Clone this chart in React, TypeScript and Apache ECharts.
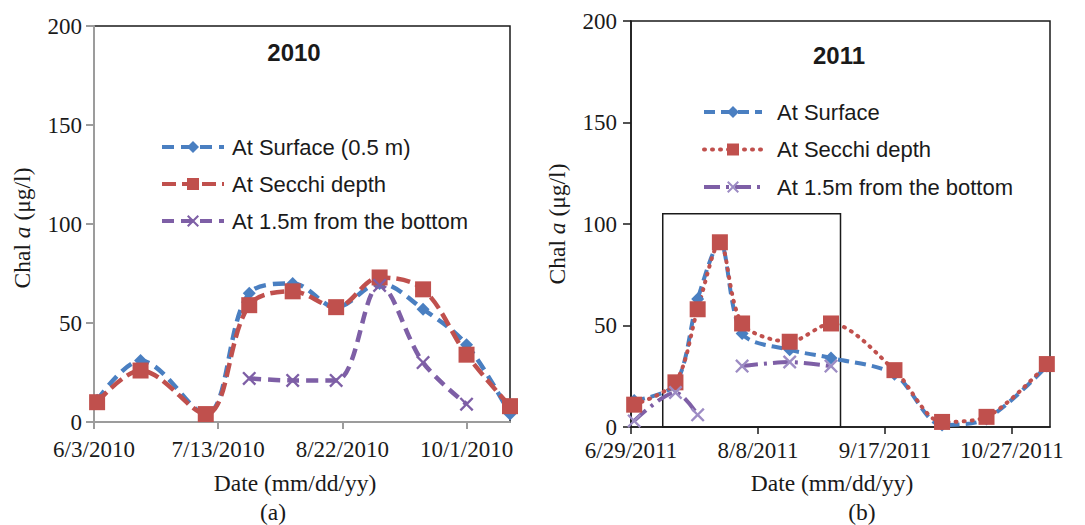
import React, { useEffect, useRef } from "react";
import * as echarts from "echarts";

const SERIF = '"Liberation Serif", "Times New Roman", serif';
const SANS = '"Liberation Sans", Arial, sans-serif';

// ---------- Panel (a) 2010 ----------
const datesA = ["6/4/2010", "6/18/2010", "7/9/2010", "7/23/2010", "8/6/2010", "8/20/2010", "9/3/2010", "9/17/2010", "10/1/2010", "10/15/2010"];
const surfaceA = [11, 31, 4, 65, 70, 58, 70, 57, 39, 4];
const secchiA = [10, 26, 4, 59, 66, 58, 73, 67, 34, 8];
const bottomA = [null, null, null, 22, 21, 21, 69, 30, 9, null];
const axisStartA = "6/3/2010";
const axisEndA = "10/15/2010";
const namesA = ["At Surface (0.5 m)", "At Secchi depth", "At 1.5m from the bottom"];

// ---------- Panel (b) 2011 ----------
const datesB = ["6/30/2011", "7/13/2011", "7/20/2011", "7/27/2011", "8/3/2011", "8/18/2011", "8/31/2011", "9/20/2011", "10/5/2011", "10/19/2011", "11/7/2011"];
const surfaceB = [13, 21, 63, 91, 46, 38, 34, 26, 1, 4, 30];
const secchiB = [11, 22, 58, 91, 51, 42, 51, 28, 2.5, 5, 31];
const bottomB = [3, 17, 6, null, 30, 32, 30, null, null, null, null];
const axisStartB = "6/29/2011";
const axisEndB = "11/8/2011";
const namesB = ["At Surface", "At Secchi depth", "At 1.5m from the bottom"];
const boxRangeB = ["7/9/2011", "9/3/2011"];
const boxTopB = 105;

// ---------- shared axis settings ----------
const yMin = 0;
const yMax = 200;
const yStep = 50;
const xStepDays = 40;

const BLUE = "#4a7fc1";
const RED = "#c0504d";
const PURPLE = "#7e5fa6";
const PURPLE_LIGHT = "#9d8cc4";

const X_SYMBOL = "path://M0,1.2 L1.2,0 L5,3.8 L8.8,0 L10,1.2 L6.2,5 L10,8.8 L8.8,10 L5,6.2 L1.2,10 L0,8.8 L3.8,5 Z";

function parseDate(s: string) {
  const [m, d, y] = s.split("/").map(Number);
  return Date.UTC(y, m - 1, d);
}
function dayOff(s: string, start: string) {
  return Math.round((parseDate(s) - parseDate(start)) / 86400000);
}
function fmtDay(start: string, days: number) {
  const dt = new Date(parseDate(start) + days * 86400000);
  return `${dt.getUTCMonth() + 1}/${dt.getUTCDate()}/${dt.getUTCFullYear()}`;
}
function pairs(dates: string[], vals: (number | null)[], start: string) {
  return dates.map((d, i) => [dayOff(d, start), vals[i] == null ? "-" : vals[i]]);
}

function yNameText(x: number, y: number) {
  return {
    type: "text",
    x,
    y,
    rotation: Math.PI / 2,
    style: {
      text: "{n|Chal }{i|a}{n| (μg/l)}",
      align: "center",
      verticalAlign: "middle",
      fill: "#1a1a1a",
      rich: {
        n: { fontFamily: SERIF, fontSize: 23.5, fill: "#1a1a1a" },
        i: { fontFamily: SERIF, fontSize: 23.5, fontStyle: "italic", fill: "#1a1a1a" },
      },
    },
  };
}
function plainText(text: string, x: number, y: number, font: any) {
  return {
    type: "text",
    x,
    y,
    style: { text, align: "center", verticalAlign: "middle", fill: "#1a1a1a", ...font },
  };
}

function buildOption(p: any) {
  const xMax = dayOff(p.axisEnd, p.axisStart);
  return {
    animation: false,
    grid: {
      left: p.grid.left,
      top: p.grid.top,
      width: p.grid.width,
      height: p.grid.height,
      show: true,
      borderColor: "#1a1a1a",
      borderWidth: 1.5,
      backgroundColor: "transparent",
    },
    xAxis: {
      type: "value",
      min: 0,
      max: xMax,
      interval: xStepDays,
      axisLine: { show: true, onZero: false, lineStyle: { color: p.axisColor, width: p.axisWidth } },
      axisTick: { show: true, length: 7, lineStyle: { color: p.axisColor, width: p.axisWidth } },
      axisLabel: {
        margin: p.xLabelMargin,
        fontSize: 23,
        fontFamily: SERIF,
        color: "#1a1a1a",
        showMaxLabel: false,
        formatter: (v: number) => (v % xStepDays === 0 ? fmtDay(p.axisStart, v) : ""),
      },
      splitLine: { show: false },
    },
    yAxis: {
      type: "value",
      min: yMin,
      max: yMax,
      interval: yStep,
      axisLine: { show: true, lineStyle: { color: p.axisColor, width: p.axisWidth } },
      axisTick: { show: true, length: 8, lineStyle: { color: p.axisColor, width: p.axisWidth } },
      axisLabel: { margin: p.yLabelMargin, fontSize: 23, fontFamily: SERIF, color: "#1a1a1a" },
      splitLine: { show: false },
    },
    legend: {
      orient: "vertical",
      left: p.legend.left,
      top: p.legend.top,
      padding: 0,
      itemWidth: p.legend.itemWidth,
      itemHeight: 15,
      itemGap: p.legend.itemGap,
      selectedMode: false,
      lineStyle: { width: 4 },
      textStyle: {
        fontFamily: SANS,
        fontSize: 22,
        lineHeight: 22,
        color: "#1a1a1a",
        padding: [0, 0, 0, p.legend.textPad],
      },
      data: p.names,
    },
    graphic: [
      plainText(p.title, p.titlePos[0], p.titlePos[1], { fontFamily: SANS, fontSize: 24, fontWeight: "bold" }),
      plainText("Date (mm/dd/yy)", p.xNamePos[0], p.xNamePos[1], { fontFamily: SERIF, fontSize: 23.5 }),
      plainText(p.panel, p.panelPos[0], p.panelPos[1], { fontFamily: SERIF, fontSize: 23.5 }),
      yNameText(p.yNamePos[0], p.yNamePos[1]),
    ],
    series: p.series,
  };
}

const optionA = buildOption({
  axisStart: axisStartA,
  axisEnd: axisEndA,
  grid: { left: 94, top: 26, width: 416, height: 396 },
  axisColor: "#9c9c9c",
  axisWidth: 2,
  xLabelMargin: 16,
  yLabelMargin: 12,
  legend: { left: 160, top: 136, itemWidth: 62, itemGap: 15, textPad: 3 },
  names: namesA,
  title: "2010",
  titlePos: [294, 52],
  xNamePos: [295, 483],
  panel: "(a)",
  panelPos: [273, 512],
  yNamePos: [22, 228],
  series: [
    {
      name: namesA[0],
      type: "line",
      smooth: 0.35,
      data: pairs(datesA, surfaceA, axisStartA),
      symbol: "diamond",
      symbolSize: 13,
      itemStyle: { color: BLUE },
      lineStyle: { color: BLUE, width: 4.5, type: [12, 7] },
    },
    {
      name: namesA[1],
      type: "line",
      smooth: 0.35,
      data: pairs(datesA, secchiA, axisStartA),
      symbol: "rect",
      symbolSize: 16,
      itemStyle: { color: RED },
      lineStyle: { color: RED, width: 4.5, type: [14, 6] },
    },
    {
      name: namesA[2],
      type: "line",
      smooth: 0.35,
      connectNulls: false,
      data: pairs(datesA, bottomA, axisStartA),
      symbol: X_SYMBOL,
      symbolSize: 14,
      itemStyle: { color: PURPLE },
      lineStyle: { color: PURPLE, width: 4.5, type: [12, 7] },
    },
  ],
});

const optionB = buildOption({
  axisStart: axisStartB,
  axisEnd: axisEndB,
  grid: { left: 91, top: 21, width: 419, height: 406 },
  axisColor: "#1a1a1a",
  axisWidth: 1.5,
  xLabelMargin: 12,
  yLabelMargin: 14,
  legend: { left: 162, top: 101, itemWidth: 58, itemGap: 15.5, textPad: 10 },
  names: namesB,
  title: "2011",
  titlePos: [299, 55],
  xNamePos: [292, 483],
  panel: "(b)",
  panelPos: [322, 512],
  yNamePos: [17, 224],
  series: [
    {
      name: namesB[0],
      type: "line",
      smooth: 0.3,
      data: pairs(datesB, surfaceB, axisStartB),
      symbol: "diamond",
      symbolSize: 13,
      itemStyle: { color: BLUE },
      lineStyle: { color: BLUE, width: 4, type: [11, 6] },
    },
    {
      name: namesB[1],
      type: "line",
      smooth: 0.3,
      data: pairs(datesB, secchiB, axisStartB),
      symbol: "rect",
      symbolSize: 16,
      itemStyle: { color: RED },
      lineStyle: { color: RED, width: 4, type: [1, 7], cap: "round" },
      markArea: {
        silent: true,
        itemStyle: { color: "rgba(0,0,0,0)", borderColor: "#1a1a1a", borderWidth: 1.5 },
        data: [
          [
            { coord: [dayOff(boxRangeB[0], axisStartB), boxTopB] },
            { coord: [dayOff(boxRangeB[1], axisStartB), 0] },
          ],
        ],
      },
    },
    {
      name: namesB[2],
      type: "line",
      smooth: 0.3,
      connectNulls: false,
      data: pairs(datesB, bottomB, axisStartB),
      symbol: X_SYMBOL,
      symbolSize: 14,
      itemStyle: { color: PURPLE_LIGHT },
      lineStyle: { color: PURPLE, width: 4, type: [16, 6, 3, 6] },
    },
  ],
});

function Panel({ option, left, width }: { option: any; left: number; width: number }) {
  const ref = useRef<HTMLDivElement>(null);
  useEffect(() => {
    const chart = echarts.init(ref.current as HTMLDivElement, null, { renderer: "svg" });
    chart.setOption(option);
    return () => chart.dispose();
  }, [option]);
  return <div ref={ref} style={{ position: "absolute", left, top: 0, width, height: 525 }} />;
}

export default function App() {
  return (
    <div style={{ position: "fixed", left: 0, top: 0, width: 1085, height: 525, background: "#ffffff" }}>
      <Panel option={optionA} left={0} width={540} />
      <Panel option={optionB} left={540} width={545} />
    </div>
  );
}
